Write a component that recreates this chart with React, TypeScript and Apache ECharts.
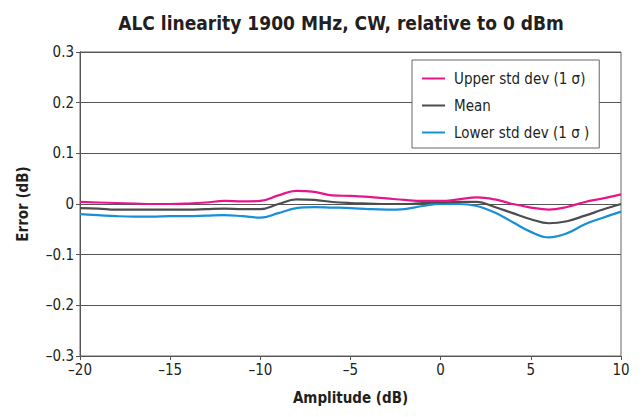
import React, { useEffect, useRef } from "react";
import * as echarts from "echarts";

const amplitudes = [-20, -19, -18, -17, -16, -15, -14, -13, -12, -11, -10, -9, -8, -7, -6, -5, -4, -3, -2, -1, 0, 1, 2, 3, 4, 5, 6, 7, 8, 9, 10];
const upperStd = [0.004, 0.003, 0.002, 0.001, 0.0, 0.0, 0.001, 0.003, 0.006, 0.005, 0.006, 0.017, 0.026, 0.024, 0.017, 0.016, 0.014, 0.011, 0.008, 0.006, 0.006, 0.009, 0.013, 0.009, 0.0, -0.007, -0.011, -0.006, 0.004, 0.011, 0.019];
const meanVals = [-0.008, -0.009, -0.011, -0.011, -0.011, -0.011, -0.011, -0.01, -0.009, -0.01, -0.01, 0.0, 0.009, 0.008, 0.004, 0.002, 0.001, 0.0, 0.0, 0.002, 0.003, 0.004, 0.004, -0.006, -0.018, -0.03, -0.038, -0.034, -0.023, -0.011, 0.0];
const lowerStd = [-0.02, -0.022, -0.024, -0.025, -0.025, -0.024, -0.024, -0.023, -0.022, -0.024, -0.027, -0.018, -0.008, -0.006, -0.007, -0.008, -0.01, -0.011, -0.01, -0.004, 0.0, 0.0, -0.004, -0.017, -0.036, -0.055, -0.066, -0.058, -0.04, -0.027, -0.015];
const seriesNames = ["Upper std dev (1 σ)", "Mean", "Lower std dev (1 σ )"];
const seriesColors = ["#e6168a", "#4d4d4f", "#1a8fd6"];

const FONT = "'Liberation Sans Narrow', 'DejaVu Sans Condensed', sans-serif";

function fmt(v: number): string {
  if (Math.abs(v) < 1e-9) return "0";
  const r = Math.round(v * 1000) / 1000;
  const s = Number.isInteger(r) ? String(Math.abs(r)) : Math.abs(v).toFixed(1);
  return (v < 0 ? "\u2013" : "") + s;
}

export default function App() {
  const ref = useRef<HTMLDivElement>(null);
  useEffect(() => {
    if (!ref.current) return;
    const chart = echarts.init(ref.current, null, { renderer: "svg" });
    const all = [upperStd, meanVals, lowerStd];
    chart.setOption({
      animation: false,
      backgroundColor: "#ffffff",
      title: {
        text: "ALC linearity 1900 MHz, CW, relative to 0 dBm",
        left: 336,
        textAlign: "center",
        top: 8,
        textStyle: { fontFamily: FONT, fontWeight: "bold", fontSize: 19, color: "#231f20" },
      },
      grid: {
        left: 80,
        right: 22,
        top: 52,
        bottom: 61,
        show: true,
        borderColor: "#666666",
        borderWidth: 1,
        containLabel: false,
      },
      legend: {
        orient: "vertical",
        left: 412,
        top: 60,
        width: 185,
        padding: [11, 10, 8, 10],
        itemGap: 12,
        itemWidth: 23,
        itemHeight: 2,
        icon: "rect",
        backgroundColor: "#ffffff",
        borderColor: "#666666",
        borderWidth: 1,
        textStyle: { fontFamily: FONT, fontSize: 15, color: "#231f20", padding: [0, 0, 0, 4] },
        data: seriesNames,
      },
      xAxis: {
        type: "value",
        min: -20,
        max: 10,
        interval: 5,
        name: "Amplitude (dB)",
        nameLocation: "middle",
        nameGap: 34,
        nameTextStyle: { fontFamily: FONT, fontWeight: "bold", fontSize: 15, color: "#231f20" },
        axisLine: { show: true, onZero: false, lineStyle: { color: "#555555", width: 1 } },
        axisTick: { show: true, length: 4, lineStyle: { color: "#555555" } },
        axisLabel: { fontFamily: FONT, fontSize: 15, color: "#231f20", margin: 6, formatter: fmt },
        splitLine: { show: false },
      },
      yAxis: {
        type: "value",
        min: -0.3,
        max: 0.3,
        interval: 0.1,
        name: "Error (dB)",
        nameLocation: "middle",
        nameGap: 50,
        nameTextStyle: { fontFamily: FONT, fontWeight: "bold", fontSize: 15, color: "#231f20" },
        axisLine: { show: true, onZero: false, lineStyle: { color: "#555555", width: 1 } },
        axisTick: { show: true, length: 4, lineStyle: { color: "#555555" } },
        axisLabel: { fontFamily: FONT, fontSize: 15, color: "#231f20", margin: 6, formatter: fmt },
        splitLine: { show: true, lineStyle: { color: "#555555", width: 1 } },
      },
      series: seriesNames.map((name, i) => ({
        name,
        type: "line",
        smooth: 0.4,
        showSymbol: false,
        symbol: "none",
        color: seriesColors[i],
        lineStyle: { width: 2.2, color: seriesColors[i] },
        data: amplitudes.map((x, j) => [x, all[i][j]]),
        z: 3 - i,
      })),
    });
    return () => chart.dispose();
  }, []);
  return <div ref={ref} style={{ position: "fixed", left: 0, top: 0, width: 643, height: 417 }} />;
}
